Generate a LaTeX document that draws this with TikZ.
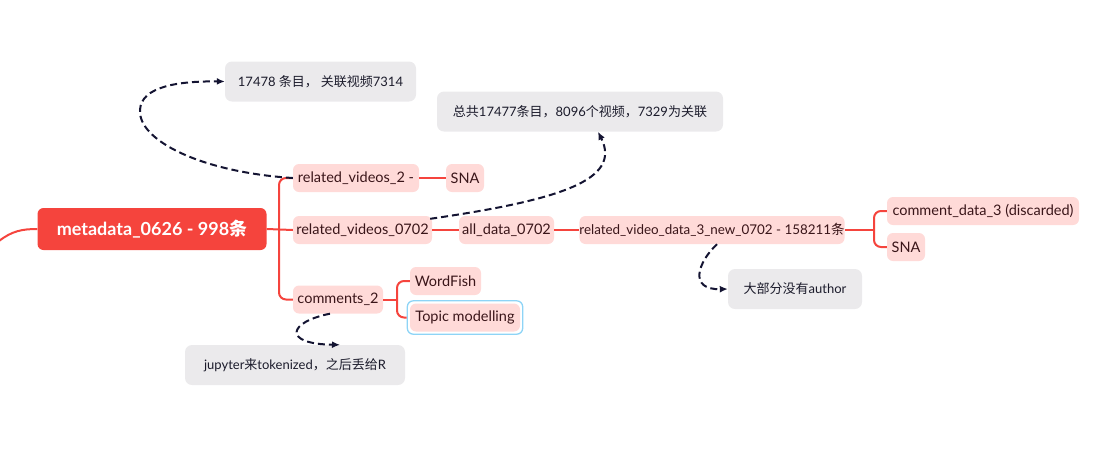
\documentclass[tikz,border=0pt]{standalone}
\usepackage{fontspec}
\setmainfont{Lato}
\newfontfamily\cjk{Noto Sans CJK SC}
\usetikzlibrary{arrows.meta,calc,fit}
\definecolor{rootred}{HTML}{F5443D}
\definecolor{childfill}{HTML}{FFDAD8}
\definecolor{childtext}{HTML}{3A1519}
\definecolor{branch}{HTML}{F5443D}
\definecolor{notefill}{HTML}{EBEAEC}
\definecolor{notetext}{HTML}{1B1B2B}
\definecolor{dashcol}{HTML}{141432}
\definecolor{selblue}{HTML}{8ED4F6}
\begin{document}
\begin{tikzpicture}[x=1pt,y=-1pt,
  rootbox/.style={fill=rootred, rounded corners=6pt, text=white,
    font=\fontsize{18}{21}\selectfont\bfseries, minimum height=42pt, inner sep=0pt},
  childbox/.style={fill=childfill, rounded corners=6pt, text=childtext,
    font=\fontsize{14.5}{17}\selectfont, minimum height=28pt, inner sep=0pt},
  notebox/.style={fill=notefill, rounded corners=7pt, text=notetext,
    font=\fontsize{13}{15}\selectfont, minimum height=40pt, inner sep=0pt},
  branchline/.style={draw=branch, line width=2pt, rounded corners=7pt},
  noteline/.style={draw=dashcol, line width=2pt, dash pattern=on 7pt off 4pt,
    -{Latex[length=8pt,width=7pt]}}
]
\useasboundingbox (0,0) rectangle (1117,459);

% nodes
\node[rootbox, minimum width=229pt] (root) at (152,229) {metadata\_0626 - 998{\cjk\bfseries 条}};
\node[childbox, minimum width=126pt] (rv2) at (356,178) {related\_videos\_2 -};
\node[childbox, minimum width=38pt] (sna1) at (465,178) {SNA};
\node[childbox, minimum width=139pt] (rv0702) at (362.5,230) {related\_videos\_0702};
\node[childbox, minimum width=95pt] (ad) at (506.5,230) {all\_data\_0702};
\node[childbox, minimum width=264pt, font=\fontsize{13.4}{15}\selectfont] (rd3) at (712,230) {related\_video\_data\_3\_new\_0702 - 158211{\cjk 条}};
\node[childbox, minimum width=192pt] (cd3) at (983,211) {comment\_data\_3 (discarded)};
\node[childbox, minimum width=38pt] (sna2) at (906,247) {SNA};
\node[childbox, minimum width=90pt] (c2) at (338,299.5) {comments\_2};
\node[childbox, minimum width=71pt] (wf) at (445.5,281) {WordFish};
\node[childbox, minimum width=110pt] (tm) at (465,317.5) {Topic modelling};
\node[draw=selblue, line width=1.3pt, rounded corners=6pt, fit=(tm), inner sep=2.5pt] (tmsel) {};

\node[notebox, minimum width=191pt] (n1) at (320.5,81.5) {17478 {\cjk 条目， 关联视频}7314};
\node[notebox, minimum width=286pt] (n2) at (580,111.5) {{\cjk 总共}17477{\cjk 条目，}8096{\cjk 个视频，}7329{\cjk 为关联}};
\node[notebox, minimum width=134pt] (n3) at (795,289) {{\cjk 大部分没有}author};
\node[notebox, minimum width=220pt] (n4) at (295,365) {jupyter{\cjk 来}tokenized{\cjk ，之后丢给}R};

% branch lines
\coordinate (lstart) at (-1,241);
\coordinate (j1) at (279,229);
\coordinate (j2) at (874,230);
\coordinate (j3) at (397,299.5);
\draw[branchline] (lstart) .. controls (12,231) and (22,229) .. (root.west);
\draw[branchline] (root.east) -- (rv0702.west);
\draw[branchline] (rv2.west) -| (j1) |- (c2.west);
\draw[branchline] (rv2.east) -- (sna1.west);
\draw[branchline] (rv0702.east) -- (ad.west);
\draw[branchline] (ad.east) -- (rd3.west);
\draw[branchline] (rd3.east) -- (j2);
\draw[branchline] (cd3.west) -| (j2) |- (sna2.west);
\draw[branchline] (c2.east) -- (j3);
\draw[branchline] (wf.west) -| (j3) |- (tmsel.west);

% dashed note connectors
\draw[noteline] (rv2.west) .. controls (200,172) and (138,140) .. (140,110)
  .. controls (141,86) and (180,81) .. (n1.west);
\draw[noteline] ($(rv0702.north east)+(-2,3)$) .. controls (560,200) and (622,180) .. ($(n2.south)+(18,0)$);
\draw[noteline] ($(rd3.south)+(5,0)$) .. controls (698,262) and (688,290) .. (n3.west);
\draw[noteline] ($(c2.south)+(-8,0)$) .. controls (288,322) and (282,344) .. ($(n4.north)+(45,0)$);
\end{tikzpicture}
\end{document}
